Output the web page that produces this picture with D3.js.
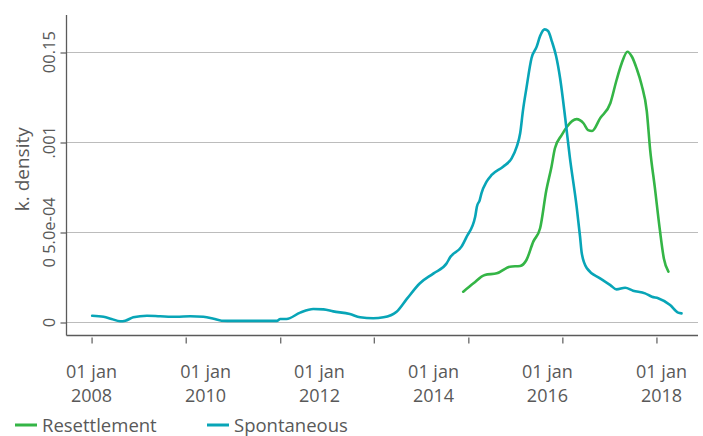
<!DOCTYPE html>
<html>
<head>
<meta charset="utf-8">
<script src="https://cdn.jsdelivr.net/npm/d3@7"></script>
<style>
  html, body { margin: 0; padding: 0; background: #fff; }
  svg text { font-family: "Open Sans", "Noto Sans", sans-serif; }
</style>
</head>
<body>
<svg id="chart" width="703" height="436"></svg>
<script>
// Kernel density of arrival dates (decimal years) by admission channel
const spontYears = [2008.02, 2008.22, 2008.36, 2008.51, 2008.60, 2008.74, 2008.98, 2009.21, 2009.50, 2009.74,
  2009.97, 2010.15, 2010.29, 2010.50, 2010.96, 2011.26, 2011.32, 2011.43, 2011.67, 2011.90,
  2012.08, 2012.25, 2012.54, 2012.72, 2012.95, 2013.13, 2013.36, 2013.54, 2013.77, 2014.01,
  2014.24, 2014.30, 2014.50, 2014.59, 2014.74, 2014.77, 2014.82, 2014.85, 2014.94, 2015.03,
  2015.23, 2015.38, 2015.47, 2015.53, 2015.58, 2015.64, 2015.73, 2015.82, 2015.88, 2015.96,
  2016.02, 2016.09, 2016.16, 2016.23, 2016.32, 2016.40, 2016.52, 2016.58, 2016.61, 2016.70,
  2016.93, 2017.11, 2017.22, 2017.37, 2017.51, 2017.72, 2017.84, 2017.95, 2018.16, 2018.30, 2018.36];
const spontDensity = [3.5e-5, 2.9e-5, 1.7e-5, 0.4e-5, 0.7e-5, 2.6e-5, 3.5e-5, 3.2e-5, 2.9e-5, 3.2e-5,
  2.9e-5, 1.8e-5, 0.7e-5, 0.6e-5, 0.6e-5, 0.6e-5, 1.7e-5, 1.7e-5, 5.2e-5, 7.2e-5,
  7.0e-5, 5.9e-5, 4.4e-5, 2.6e-5, 2.1e-5, 2.6e-5, 5.7e-5, 12.8e-5, 21.5e-5, 27.0e-5,
  32.6e-5, 35.9e-5, 41.8e-5, 47.3e-5, 58.4e-5, 64.0e-5, 67.7e-5, 71.4e-5, 77.9e-5, 81.6e-5,
  86.2e-5, 90.8e-5, 97.3e-5, 104.7e-5, 117.6e-5, 129.8e-5, 146.5e-5, 152.8e-5, 158.7e-5, 162.4e-5,
  161.5e-5, 155.4e-5, 147.6e-5, 135.4e-5, 113.2e-5, 91.6e-5, 64.0e-5, 47.3e-5, 38.1e-5, 29.8e-5,
  24.2e-5, 20.5e-5, 18.1e-5, 19.0e-5, 17.4e-5, 15.9e-5, 14.0e-5, 13.2e-5, 9.4e-5, 5.2e-5, 4.8e-5];

const resetYears = [2014.53, 2014.71, 2014.91, 2015.12, 2015.35, 2015.53, 2015.64, 2015.76, 2015.88, 2015.99,
  2016.08, 2016.14, 2016.26, 2016.35, 2016.52, 2016.64, 2016.72, 2016.79, 2016.93, 2017.11,
  2017.22, 2017.31, 2017.41, 2017.49, 2017.57, 2017.66, 2017.75, 2017.81, 2017.89, 2017.98,
  2018.05, 2018.13];
const resetDensity = [16.8e-5, 21.5e-5, 26.1e-5, 27.0e-5, 30.7e-5, 31.1e-5, 34.4e-5, 44.6e-5, 52.0e-5, 73.2e-5,
  86.2e-5, 96.4e-5, 103.8e-5, 108.4e-5, 112.6e-5, 110.3e-5, 106.5e-5, 106.0e-5, 113.0e-5, 121.4e-5,
  134.3e-5, 143.6e-5, 150.0e-5, 147.2e-5, 140.9e-5, 131.5e-5, 117.1e-5, 95.4e-5, 75.1e-5, 51.1e-5,
  35.3e-5, 27.9e-5];

const xLabelYears = [2008, 2010, 2012, 2014, 2016, 2018];
const xTickMarkYears = [2008.01, 2009.66, 2011.32, 2012.96, 2014.62, 2016.27, 2017.92];
const yTickValues = [0, 0.0005, 0.001, 0.0015];
const yTickLabels = ["0", "0 5.0e-04", ".001", "00.15"];

const seriesNames = ["Resettlement", "Spontaneous"];
const seriesColors = ["#34b546", "#08a5b7"];

const fontFamily = '"Open Sans", "Noto Sans", sans-serif';

// decimal year -> Date
function toDate(y) {
  const yr = Math.floor(y);
  const start = Date.UTC(yr, 0, 1), end = Date.UTC(yr + 1, 0, 1);
  return new Date(start + (y - yr) * (end - start));
}

const svg = d3.select("#chart");
const plot = { left: 66.5, right: 698, top: 15, bottom: 335.5 };

const x = d3.scaleUtc()
  .domain([toDate(2008), toDate(2018)])
  .range([91, 661]);
const y = d3.scaleLinear()
  .domain([0, 0.0015])
  .range([322, 51.7]);

const textColor = "#595959";
const axisColor = "#5b5b5b";

// horizontal grid
svg.append("g")
  .selectAll("line")
  .data(yTickValues)
  .join("line")
  .attr("x1", plot.left).attr("x2", plot.right)
  .attr("y1", d => Math.round(y(d)) + 0.5).attr("y2", d => Math.round(y(d)) + 0.5)
  .attr("stroke", "#bcbcbc").attr("stroke-width", 1.2);

// y axis
const yAxis = d3.axisLeft(y)
  .tickValues(yTickValues)
  .tickSize(6)
  .tickPadding(0)
  .tickFormat((d, i) => yTickLabels[i]);
const gy = svg.append("g").attr("transform", `translate(${plot.left},0)`).call(yAxis)
  .attr("font-family", fontFamily).attr("font-size", null);
gy.select(".domain").remove();
gy.selectAll(".tick line").attr("stroke", axisColor).attr("stroke-width", 1.2)
  .attr("transform", d => `translate(0,${Math.round(y(d)) + 0.5 - y(d)})`);
gy.selectAll(".tick text")
  .attr("fill", textColor)
  .style("font-size", "16.5px")
  .attr("text-anchor", "middle")
  .attr("transform", "rotate(-90)")
  .attr("x", 0).attr("y", -12).attr("dy", 0);

svg.append("line")
  .attr("x1", plot.left).attr("x2", plot.left)
  .attr("y1", plot.top).attr("y2", plot.bottom)
  .attr("stroke", axisColor).attr("stroke-width", 1.3);

// x axis: baseline, tick marks and date labels
svg.append("line")
  .attr("x1", plot.left).attr("x2", plot.right)
  .attr("y1", plot.bottom).attr("y2", plot.bottom)
  .attr("stroke", axisColor).attr("stroke-width", 1.3);

const xTicks = d3.axisBottom(x)
  .tickValues(xTickMarkYears.map(toDate))
  .tickSize(6)
  .tickFormat("");
const gxt = svg.append("g").attr("transform", `translate(0,${plot.bottom + 2})`).call(xTicks);
gxt.select(".domain").remove();
gxt.selectAll(".tick line").attr("stroke", axisColor).attr("stroke-width", 1.2);

const xLabels = d3.axisBottom(x)
  .tickValues(xLabelYears.map(toDate))
  .tickSize(0)
  .tickFormat(d3.utcFormat("%Y"));
const gxl = svg.append("g").attr("transform", `translate(0,${plot.bottom})`).call(xLabels)
  .attr("font-family", fontFamily).attr("font-size", null);
gxl.select(".domain").remove();
gxl.selectAll(".tick text").each(function(d) {
  const t = d3.select(this);
  t.text(null).attr("y", 0).attr("dy", 0)
    .attr("fill", textColor).style("font-size", "18px");
  t.append("tspan").attr("x", 0).attr("y", 42).text(d3.utcFormat("%d %b")(d).toLowerCase());
  t.append("tspan").attr("x", 0).attr("y", 66).text(d3.utcFormat("%Y")(d));
});

// y axis title
svg.append("text")
  .attr("transform", `translate(29,${(plot.top + plot.bottom) / 2 - 6}) rotate(-90)`)
  .attr("text-anchor", "middle")
  .attr("fill", textColor)
  .style("font-size", "19px")
  .text("k. density");

// density curves
const line = d3.line()
  .x(d => x(toDate(d[0])))
  .y(d => y(d[1]))
  .curve(d3.curveMonotoneX);

const series = [
  d3.zip(resetYears, resetDensity),
  d3.zip(spontYears, spontDensity)
];

svg.append("g")
  .selectAll("path")
  .data(series)
  .join("path")
  .attr("d", line)
  .attr("fill", "none")
  .attr("stroke", (d, i) => seriesColors[i])
  .attr("stroke-width", 2.6)
  .attr("stroke-linejoin", "round")
  .attr("stroke-linecap", "round");

// legend
const legendX = [15, 207];
const lg = svg.append("g")
  .selectAll("g")
  .data(seriesNames)
  .join("g")
  .attr("transform", (d, i) => `translate(${legendX[i]},425)`);
lg.append("line")
  .attr("x1", 0).attr("x2", 22).attr("y1", 0).attr("y2", 0)
  .attr("stroke", (d, i) => seriesColors[i]).attr("stroke-width", 3);
lg.append("text")
  .attr("x", 27).attr("y", 7)
  .attr("fill", textColor)
  .style("font-size", "18.5px")
  .text(d => d);
</script>
</body>
</html>
